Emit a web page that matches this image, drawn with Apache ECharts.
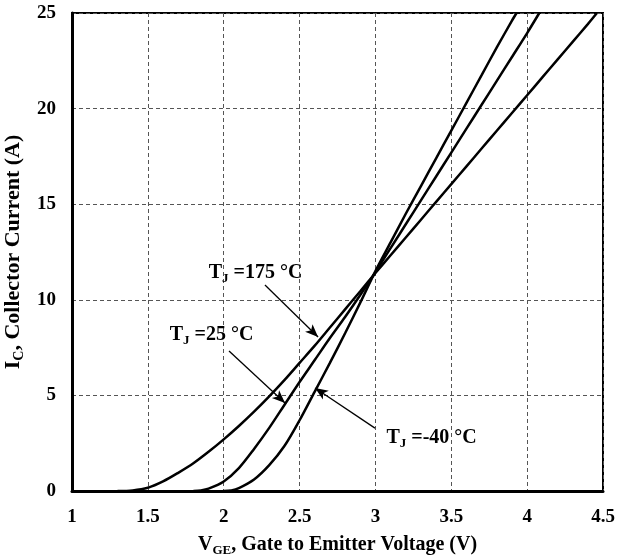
<!DOCTYPE html>
<html>
<head>
<meta charset="utf-8">
<script src="https://cdn.jsdelivr.net/npm/echarts@6/dist/echarts.min.js"></script>
<style>
  html, body { margin: 0; padding: 0; background: #fff; }
  #chart { width: 618px; height: 560px; }
</style>
</head>
<body>
<div id="chart"></div>
<script>
// Transfer characteristics: collector current vs gate-emitter voltage at three junction temperatures
const vge175 = [1.3, 1.4, 1.5, 1.6, 1.7, 1.8, 1.9, 2.0, 2.1, 2.2, 2.3, 2.4, 2.5, 2.6, 2.7, 2.8, 2.9, 3.0, 3.1, 3.2, 3.3, 3.4, 3.5, 3.6, 3.7, 3.8, 3.9, 4.0, 4.1, 4.2, 4.3, 4.4, 4.46];
const ic175  = [0, 0.03, 0.17, 0.5, 0.95, 1.45, 2.05, 2.7, 3.4, 4.15, 4.95, 5.8, 6.7, 7.6, 8.55, 9.5, 10.45, 11.4, 12.33, 13.26, 14.19, 15.12, 16.05, 16.98, 17.91, 18.84, 19.77, 20.7, 21.63, 22.56, 23.49, 24.42, 25.0];

const vge25 = [1.8, 1.85, 1.9, 2.0, 2.1, 2.2, 2.3, 2.4, 2.5, 2.6, 2.7, 2.8, 2.9, 3.0, 3.1, 3.2, 3.3, 3.4, 3.5, 3.6, 3.7, 3.8, 3.9, 4.0, 4.08];
const ic25  = [0, 0.03, 0.12, 0.5, 1.2, 2.2, 3.3, 4.5, 5.7, 6.85, 8.0, 9.1, 10.25, 11.45, 12.7, 13.95, 15.2, 16.45, 17.7, 18.95, 20.2, 21.45, 22.7, 23.95, 25.0];

const vgeM40 = [2.0, 2.05, 2.1, 2.2, 2.3, 2.4, 2.5, 2.6, 2.7, 2.8, 2.9, 3.0, 3.1, 3.2, 3.3, 3.4, 3.5, 3.6, 3.7, 3.8, 3.9, 3.93];
const icM40  = [0, 0.03, 0.15, 0.6, 1.35, 2.35, 3.7, 5.2, 6.7, 8.25, 9.85, 11.5, 13.0, 14.5, 15.95, 17.4, 18.85, 20.3, 21.75, 23.2, 24.6, 25.0];

// Curve annotations: label text, label anchor, arrow tail and arrow head (data units)
const annoText  = ['=175 °C', '=25 °C', '=-40 °C'];
const annoLabel = [[2.21, 11.4], [1.92, 8.16], [3.37, 2.77]];
const annoTail  = [[2.272, 10.77], [2.035, 7.32], [2.997, 3.29]];
const annoHead  = [[2.622, 8.05], [2.404, 4.60], [2.602, 5.39]];

const FONT = 'Liberation Serif';

function pairs(xs, ys) { return xs.map((x, i) => [x, ys[i]]); }

function subRich(size) {
  return {
    b: { fontFamily: FONT, fontWeight: 'bold', fontSize: size, color: '#000', lineHeight: size + 4 },
    s: { fontFamily: FONT, fontWeight: 'bold', fontSize: Math.round(size * 0.65), color: '#000', lineHeight: 10, verticalAlign: 'bottom' }
  };
}
const labRich = {
  t: { fontFamily: FONT, fontWeight: 'bold', fontSize: 20, color: '#000', lineHeight: 24 },
  j: { fontFamily: FONT, fontWeight: 'bold', fontSize: 13, color: '#000', lineHeight: 10, verticalAlign: 'bottom' }
};

const curveStyle = { color: '#000', width: 2.5 };

function curve(name, xs, ys) {
  return {
    name: name, type: 'line', data: pairs(xs, ys),
    showSymbol: false, smooth: 0.3,
    lineStyle: curveStyle, itemStyle: { color: '#000' },
    animation: false, silent: true, z: 3
  };
}

// annotation layer: arrows and labels anchored in data space
const annoSeries = {
  type: 'line', data: [], silent: true, animation: false,
  markLine: {
    silent: true, animation: false,
    symbol: ['none', 'arrow'], symbolSize: [8, 13],
    lineStyle: { color: '#000', width: 1.3, type: 'solid' },
    label: { show: false },
    data: annoTail.map((t, i) => [{ coord: t }, { coord: annoHead[i] }])
  },
  markPoint: {
    silent: true, animation: false,
    symbol: 'circle', symbolSize: 0,
    label: { show: true, position: 'inside', color: '#000', rich: labRich },
    data: annoLabel.map((c, i) => ({
      coord: c,
      label: { formatter: '{t|T}{j|J}{t| ' + annoText[i] + '}' }
    }))
  }
};

const chart = echarts.init(document.getElementById('chart'), null, { renderer: 'canvas' });
chart.setOption({
  animation: false,
  backgroundColor: '#fff',
  grid: {
    left: 72, right: 15, top: 13, bottom: 69,
    show: true, borderColor: '#000', borderWidth: 2,
    outerBoundsMode: 'none'
  },
  xAxis: {
    type: 'value', min: 1, max: 4.5, interval: 0.5,
    name: '{b|V}{s|GE}{b|, Gate to Emitter Voltage (V)}',
    nameLocation: 'middle', nameGap: 42,
    nameTextStyle: { rich: subRich(20) },
    axisLine: { onZero: false, lineStyle: { color: '#000', width: 3 } },
    axisTick: { show: false },
    axisLabel: { margin: 17, fontFamily: FONT, fontWeight: 'bold', fontSize: 19, color: '#000' },
    splitLine: { show: true, lineStyle: { color: '#555', width: 1, type: [4, 3] } }
  },
  yAxis: {
    type: 'value', min: 0, max: 25, interval: 5,
    name: '{b|I}{s|C}{b|, Collector Current (A)}',
    nameLocation: 'middle', nameGap: 38, nameRotate: 90,
    nameTextStyle: { rich: subRich(22) },
    axisLine: { show: true, lineStyle: { color: '#000', width: 3 } },
    axisTick: { show: false },
    axisLabel: { margin: 16, fontFamily: FONT, fontWeight: 'bold', fontSize: 19, color: '#000' },
    splitLine: { show: true, lineStyle: { color: '#555', width: 1, type: [4, 3] } }
  },
  series: [
    curve('TJ=175 °C', vge175, ic175),
    curve('TJ=25 °C', vge25, ic25),
    curve('TJ=-40 °C', vgeM40, icM40),
    annoSeries
  ]
});
</script>
</body>
</html>
